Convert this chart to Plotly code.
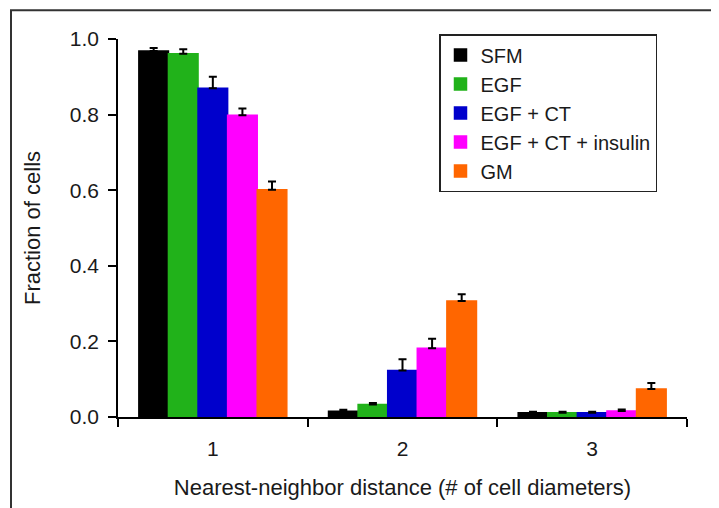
import plotly.graph_objects as go

categories = [1, 2, 3]
category_labels = ["1", "2", "3"]
series_names = ["SFM", "EGF", "EGF + CT", "EGF + CT + insulin", "GM"]
sfm = [0.968, 0.015, 0.011]
sfm_err = [0.008, 0.004, 0.003]
egf = [0.961, 0.033, 0.011]
egf_err = [0.012, 0.004, 0.003]
egf_ct = [0.870, 0.123, 0.011]
egf_ct_err = [0.030, 0.030, 0.003]
egf_ct_ins = [0.798, 0.182, 0.016]
egf_ct_ins_err = [0.018, 0.025, 0.004]
gm = [0.601, 0.307, 0.074]
gm_err = [0.022, 0.018, 0.016]
y_ticks = [0.0, 0.2, 0.4, 0.6, 0.8, 1.0]

colors = ["#000000", "#21b21a", "#0000cc", "#ff00ff", "#ff6600"]
values = [sfm, egf, egf_ct, egf_ct_ins, gm]
errors = [sfm_err, egf_err, egf_ct_err, egf_ct_ins_err, gm_err]

FONT = "Liberation Sans, Arial, sans-serif"

fig = go.Figure()
for name, v, e, c in zip(series_names, values, errors, colors):
    fig.add_trace(go.Bar(
        x=categories, y=v, name=name,
        marker=dict(color=c, line=dict(color=c, width=1.5)),
        error_y=dict(type="data", array=e, arrayminus=[0] * len(e),
                     symmetric=False, color="#000000", thickness=2, width=4),
    ))

# page body has an 8px offset; figure sized so that absolute positions match
OFF = 8
W, H = 719 - OFF, 508 - OFF
ml, mr, mt, mb = 118 - OFF, 32, 39 - OFF, 89
pw, ph = W - ml - mr, H - mt - mb

fig.update_layout(
    width=W, height=H,
    margin=dict(l=ml, r=mr, t=mt, b=mb, pad=0),
    paper_bgcolor="white", plot_bgcolor="white",
    font=dict(family=FONT, size=21, color="#1a1a1a"),
    barmode="group", bargap=0.22, bargroupgap=0,
    showlegend=True,
    legend=dict(
        x=(439 - 118) / pw, y=(419 - 34) / ph, xanchor="left", yanchor="top",
        bordercolor="#222222", borderwidth=1.5, bgcolor="white",
        font=dict(family=FONT, size=20, color="#1a1a1a"),
        tracegroupgap=0, entrywidth=230,
    ),
    xaxis=dict(
        range=[0.5, 3.5], tickmode="array", tickvals=categories, ticktext=category_labels,
        ticks="", showline=True, linecolor="#000000", linewidth=1.5,
        showgrid=False, zeroline=False, ticklabelstandoff=12,
        tickfont=dict(size=21),
        minor=dict(tickmode="linear", tick0=0.5, dtick=1, ticks="outside",
                   ticklen=8, tickwidth=1.5, tickcolor="#000000", showgrid=False),
        title=dict(text="Nearest-neighbor distance (# of cell diameters)",
                   font=dict(size=22), standoff=21),
    ),
    yaxis=dict(
        range=[0, 1], tickmode="array", tickvals=y_ticks,
        ticktext=[f"{t:.1f}" for t in y_ticks],
        ticks="outside", ticklen=8, tickwidth=1.5, tickcolor="#000000",
        showline=True, linecolor="#000000", linewidth=1.5,
        showgrid=False, zeroline=False, ticklabelstandoff=5,
        tickfont=dict(size=21),
        title=dict(text="Fraction of cells", font=dict(size=22), standoff=23),
    ),
    shapes=[dict(
        type="rect", xref="paper", yref="paper",
        x0=(11 - 118) / pw, x1=(719 + 20 - 118) / pw,
        y0=-(89 + 20) / ph, y1=(419 - 10) / ph,
        line=dict(color="#333333", width=2), fillcolor="rgba(0,0,0,0)", layer="above",
    )],
)

fig.write_html("out.html")
